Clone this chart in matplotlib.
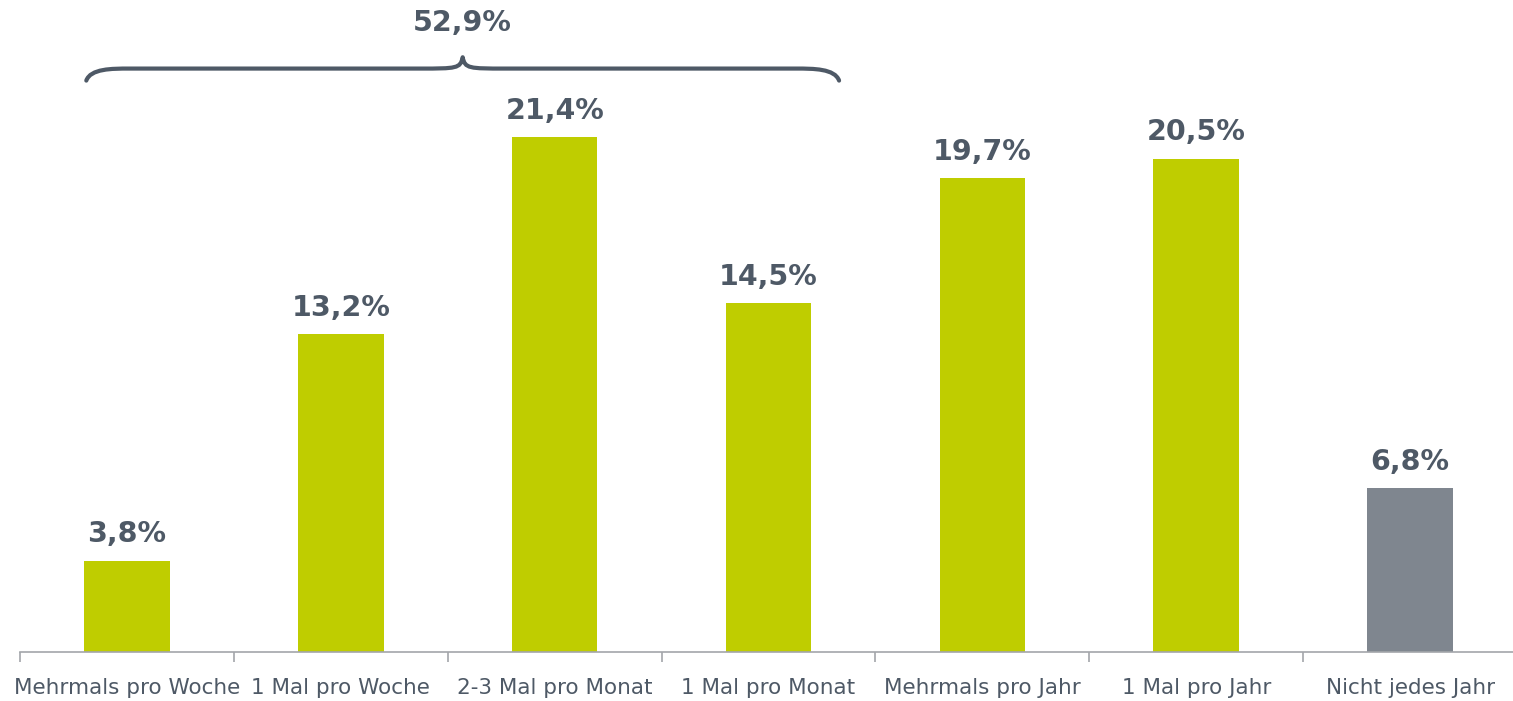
import matplotlib.pyplot as plt
from matplotlib.path import Path
from matplotlib.patches import PathPatch

categories = [
    "Mehrmals pro Woche",
    "1 Mal pro Woche",
    "2-3 Mal pro Monat",
    "1 Mal pro Monat",
    "Mehrmals pro Jahr",
    "1 Mal pro Jahr",
    "Nicht jedes Jahr",
]
values = [3.8, 13.2, 21.4, 14.5, 19.7, 20.5, 6.8]
group_total = 52.9  # sum of the first four categories
group_span = (0, 3)

GREEN = "#bfcd00"
GREY_BAR = "#7f868f"
TEXT = "#4e5966"
AXIS = "#a3a6aa"

bar_colors = [GREEN] * 6 + [GREY_BAR]


def fmt(v):
    return f"{v:.1f}%".replace(".", ",")


fig = plt.figure(figsize=(15.13, 7.01), dpi=100)
ax = fig.add_axes([20 / 1513, 49 / 701, 1497 / 1513, 652 / 701])

x = list(range(len(categories)))
bars = ax.bar(x, values, width=0.4, color=bar_colors, zorder=2)

for xi, v in zip(x, values):
    ax.annotate(fmt(v), (xi, v), xytext=(0, 9), textcoords="offset points",
                ha="center", va="bottom", fontsize=20.5, fontweight="bold",
                color=TEXT)

ax.set_xlim(-0.5, 6.5)
ax.set_ylim(0, 27.1)

# category boundary ticks, labels centred between them
ax.set_xticks([i - 0.5 for i in range(len(categories) + 1)])
ax.set_xticklabels([])
ax.set_xticks(x, minor=True)
ax.set_xticklabels(categories, minor=True, fontsize=15.5, color=TEXT)
ax.tick_params(axis="x", which="major", length=7, width=1.2, color=AXIS, direction="out")
ax.tick_params(axis="x", which="minor", length=0, pad=19)
ax.set_yticks([])
for s in ["top", "right", "left"]:
    ax.spines[s].set_visible(False)
ax.spines["bottom"].set_color(AXIS)
ax.spines["bottom"].set_linewidth(1.2)

# curly brace over the first four categories
x0, x1 = group_span[0] - 0.19, group_span[1] + 0.33
xm = (x0 + x1) / 2
y_end, y_line, y_tip = 23.75, 24.25, 24.72
dx = 0.2
verts = [
    (x0, y_end), (x0 + 0.02, y_line), (x0 + dx * 0.6, y_line), (x0 + dx, y_line),
    (xm - dx, y_line),
    (xm - 0.03, y_line), (xm - 0.01, y_line), (xm, y_tip),
    (xm + 0.01, y_line), (xm + 0.03, y_line), (xm + dx, y_line),
    (x1 - dx, y_line),
    (x1 - dx * 0.6, y_line), (x1 - 0.02, y_line), (x1, y_end),
]
codes = [Path.MOVETO, Path.CURVE4, Path.CURVE4, Path.CURVE4,
         Path.LINETO,
         Path.CURVE4, Path.CURVE4, Path.CURVE4,
         Path.CURVE4, Path.CURVE4, Path.CURVE4,
         Path.LINETO,
         Path.CURVE4, Path.CURVE4, Path.CURVE4]
ax.add_patch(PathPatch(Path(verts, codes), fill=False, edgecolor=TEXT,
                       linewidth=3, capstyle="round", joinstyle="round",
                       clip_on=False))
ax.text(xm, 25.55, fmt(group_total), ha="center", va="bottom", fontsize=20.5,
        fontweight="bold", color=TEXT, clip_on=False)

fig.savefig("out.png", dpi=100)
